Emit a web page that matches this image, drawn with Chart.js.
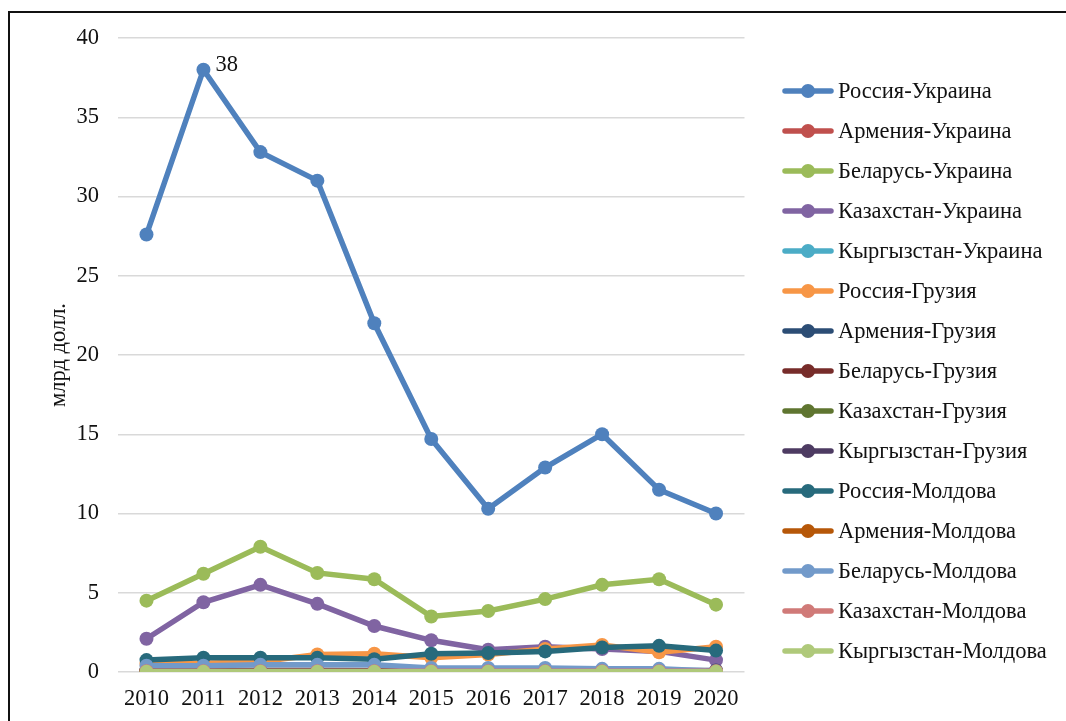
<!DOCTYPE html>
<html>
<head>
<meta charset="utf-8">
<script src="https://cdn.jsdelivr.net/npm/chart.js@4"></script>
<style>
  html, body { margin: 0; padding: 0; background: #fff; }
  .wrap { position: relative; width: 1066px; height: 721px; overflow: hidden; }
  .frame { position: absolute; left: 8px; top: 11px; width: 1200px; height: 900px;
           border-left: 2px solid #111; border-top: 2px solid #111; }
  canvas { position: absolute; left: 0; top: 0; }
</style>
</head>
<body>
<div class="wrap">
  <div class="frame"></div>
  <canvas id="myChart" width="1066" height="721"></canvas>
</div>
<script>
// data
const years = ['2010','2011','2012','2013','2014','2015','2016','2017','2018','2019','2020'];
const yTicks = [0, 5, 10, 15, 20, 25, 30, 35, 40];

const rusUkr = [27.6, 38.0, 32.8, 31.0, 22.0, 14.7, 10.3, 12.9, 15.0, 11.5, 10.0];
const armUkr = [0.1, 0.1, 0.1, 0.1, 0.08, 0.05, 0.05, 0.05, 0.05, 0.05, 0.05];
const belUkr = [4.5, 6.2, 7.9, 6.25, 5.85, 3.5, 3.85, 4.6, 5.5, 5.85, 4.25];
const kazUkr = [2.1, 4.4, 5.5, 4.3, 2.9, 2.0, 1.4, 1.6, 1.45, 1.3, 0.75];
const kyrUkr = [0.05, 0.05, 0.05, 0.05, 0.03, 0.02, 0.02, 0.02, 0.02, 0.02, 0.02];
const rusGeo = [0.5, 0.55, 0.65, 1.1, 1.15, 0.9, 1.1, 1.45, 1.7, 1.25, 1.6];
const armGeo = [0.1, 0.1, 0.1, 0.1, 0.1, 0.1, 0.1, 0.1, 0.1, 0.1, 0.1];
const belGeo = [0.05, 0.05, 0.05, 0.05, 0.05, 0.05, 0.05, 0.05, 0.05, 0.05, 0.05];
const kazGeo = [0.05, 0.05, 0.05, 0.05, 0.05, 0.05, 0.05, 0.05, 0.05, 0.05, 0.05];
const kyrGeo = [0.01, 0.01, 0.01, 0.01, 0.01, 0.01, 0.01, 0.01, 0.01, 0.01, 0.01];
const rusMol = [0.75, 0.9, 0.9, 0.9, 0.8, 1.15, 1.2, 1.3, 1.55, 1.65, 1.35];
const armMol = [0.01, 0.01, 0.01, 0.01, 0.01, 0.01, 0.01, 0.01, 0.01, 0.01, 0.01];
const belMol = [0.4, 0.4, 0.45, 0.45, 0.45, 0.25, 0.25, 0.25, 0.2, 0.2, 0.05];
const kazMol = [0.05, 0.05, 0.05, 0.05, 0.05, 0.05, 0.05, 0.05, 0.05, 0.05, 0.05];
const kyrMol = [0.01, 0.01, 0.01, 0.01, 0.01, 0.01, 0.01, 0.01, 0.01, 0.01, 0.01];

const seriesNames = ['Россия-Украина','Армения-Украина','Беларусь-Украина','Казахстан-Украина','Кыргызстан-Украина',
  'Россия-Грузия','Армения-Грузия','Беларусь-Грузия','Казахстан-Грузия','Кыргызстан-Грузия',
  'Россия-Молдова','Армения-Молдова','Беларусь-Молдова','Казахстан-Молдова','Кыргызстан-Молдова'];
const seriesValues = [rusUkr, armUkr, belUkr, kazUkr, kyrUkr, rusGeo, armGeo, belGeo, kazGeo, kyrGeo,
  rusMol, armMol, belMol, kazMol, kyrMol];
const seriesColors = ['#4f81bd','#c0504d','#9bbb59','#8064a2','#4bacc6',
  '#f79646','#2c4d75','#772c2a','#5f7530','#4d3b62',
  '#276a7c','#b65708','#729aca','#d07a78','#afc97a'];

const FONT = '"Liberation Serif", "Times New Roman", serif';

const datasets = seriesNames.map((name, i) => ({
  label: name,
  data: seriesValues[i],
  borderColor: seriesColors[i],
  backgroundColor: seriesColors[i],
  borderWidth: 5.5,
  pointRadius: 7,
  pointBorderWidth: 0,
  pointHoverRadius: 7,
  tension: 0,
  // excel draws later series on top
  order: seriesNames.length - i
}));

// legend at right, line + circle
const sideLegend = {
  id: 'sideLegend',
  afterDraw(chart) {
    const ctx = chart.ctx;
    ctx.save();
    chart.data.datasets.forEach((ds, i) => {
      const y = 91 + i * 40;
      ctx.strokeStyle = ds.borderColor;
      ctx.lineWidth = 5.5;
      ctx.lineCap = 'round';
      ctx.beginPath();
      ctx.moveTo(785, y);
      ctx.lineTo(831, y);
      ctx.stroke();
      ctx.fillStyle = ds.borderColor;
      ctx.beginPath();
      ctx.arc(808, y, 7, 0, Math.PI * 2);
      ctx.fill();
      ctx.fillStyle = '#111';
      ctx.font = '22.5px ' + FONT;
      ctx.textBaseline = 'middle';
      ctx.textAlign = 'left';
      ctx.fillText(ds.label, 838, y + 1);
    });
    ctx.restore();
  }
};

// "38" label on the 2011 point
const peakLabel = {
  id: 'peakLabel',
  afterDatasetsDraw(chart) {
    const pt = chart.getDatasetMeta(0).data[1];
    const ctx = chart.ctx;
    ctx.save();
    ctx.fillStyle = '#111';
    ctx.font = '22.5px ' + FONT;
    ctx.textBaseline = 'middle';
    ctx.textAlign = 'left';
    ctx.fillText(String(Math.round(rusUkr[1])), pt.x + 12, pt.y - 5);
    ctx.restore();
  }
};

const config = {
  type: 'line',
  data: { labels: years, datasets: datasets },
  options: {
    responsive: false,
    animation: false,
    layout: { padding: { top: 38, right: 321.5, left: 0, bottom: 0 } },
    scales: {
      x: {
        offset: true,
        grid: { display: false },
        border: { display: false },
        ticks: { color: '#111', font: { family: FONT, size: 22.5 }, padding: 6, maxRotation: 0 },
        afterFit(scale) { scale.height = 49; }
      },
      y: {
        min: 0,
        max: 40,
        afterBuildTicks(scale) { scale.ticks = yTicks.map(v => ({ value: v })); },
        grid: { color: '#d9d9d9', lineWidth: 1.5, drawTicks: false },
        border: { display: false },
        ticks: { color: '#111', font: { family: FONT, size: 22.5 }, padding: 19 },
        title: {
          display: true,
          text: 'млрд долл.',
          color: '#111',
          font: { family: FONT, size: 22.5 },
          padding: { top: 46, bottom: 0 }
        },
        afterFit(scale) { scale.width = 118; }
      }
    },
    plugins: {
      legend: { display: false },
      tooltip: { enabled: false }
    }
  },
  plugins: [sideLegend, peakLabel]
};

const myChart = new Chart(document.getElementById('myChart'), config);
</script>
</body>
</html>
